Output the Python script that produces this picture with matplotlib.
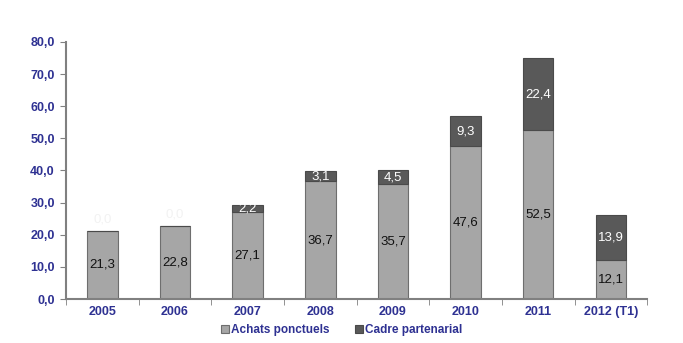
import matplotlib
matplotlib.use('Agg')
import matplotlib.pyplot as plt
import numpy as np

years = ['2005', '2006', '2007', '2008', '2009', '2010', '2011', '2012 (T1)']
achats = [21.3, 22.8, 27.1, 36.7, 35.7, 47.6, 52.5, 12.1]
cadre = [0.0, 0.0, 2.2, 3.1, 4.5, 9.3, 22.4, 13.9]
yticks = [0, 10, 20, 30, 40, 50, 60, 70, 80]

plt.rcParams['font.family'] = ['Liberation Sans', 'DejaVu Sans']
navy = '#2E3192'
c_light = '#A6A6A6'
c_dark = '#595959'

fig = plt.figure(figsize=(6.83, 3.43), dpi=100)
ax = fig.add_axes([0.0966, 0.128, 0.851, 0.75])

x = np.arange(len(years))
w = 0.42
b1 = ax.bar(x, achats, w, color=c_light, edgecolor='#6E6E6E', linewidth=0.8,
            label='Achats ponctuels')
b2 = ax.bar(x, cadre, w, bottom=achats, color=c_dark, edgecolor='#4A4A4A',
            linewidth=0.8, label='Cadre partenarial')

fmt = lambda v: f'{v:.1f}'.replace('.', ',')
for xi, a, c in zip(x, achats, cadre):
    ax.text(xi, a / 2, fmt(a), ha='center', va='center', fontsize=9.5, color='#111111')
    if c > 0:
        ax.text(xi, a + c / 2, fmt(c), ha='center', va='center', fontsize=9.5,
                color='white')
    else:
        ax.text(xi, a + 3.5, fmt(c), ha='center', va='center', fontsize=9.5,
                color='#F2F2F2')

ax.set_ylim(0, 80)
ax.set_xlim(-0.5, len(years) - 0.5)
ax.set_yticks(yticks)
ax.set_yticklabels([fmt(v) for v in yticks], color=navy, fontsize=9,
                   fontweight='bold')
ax.set_xticks(x)
ax.set_xticklabels(years, color=navy, fontsize=9, fontweight='bold')
ax.tick_params(axis='x', length=0, pad=5)
ax.set_xticks(np.arange(-0.5, len(years), 1), minor=True)
ax.tick_params(axis='x', which='minor', length=4, color='#808080', direction='out')
ax.tick_params(axis='y', length=4, color='#808080', direction='out', pad=4)
for s in ['top', 'right']:
    ax.spines[s].set_visible(False)
for s in ['left', 'bottom']:
    ax.spines[s].set_color('#808080')
    ax.spines[s].set_linewidth(1.5)

leg = fig.legend(handles=[b1, b2], loc='lower center', ncol=2, frameon=False,
                 bbox_to_anchor=(0.5, -0.01), fontsize=8.5, handlelength=0.7,
                 handleheight=0.7, handletextpad=0.1, columnspacing=2.2)
for t in leg.get_texts():
    t.set_color(navy)
    t.set_fontweight('bold')

fig.savefig('out.png', dpi=100)
